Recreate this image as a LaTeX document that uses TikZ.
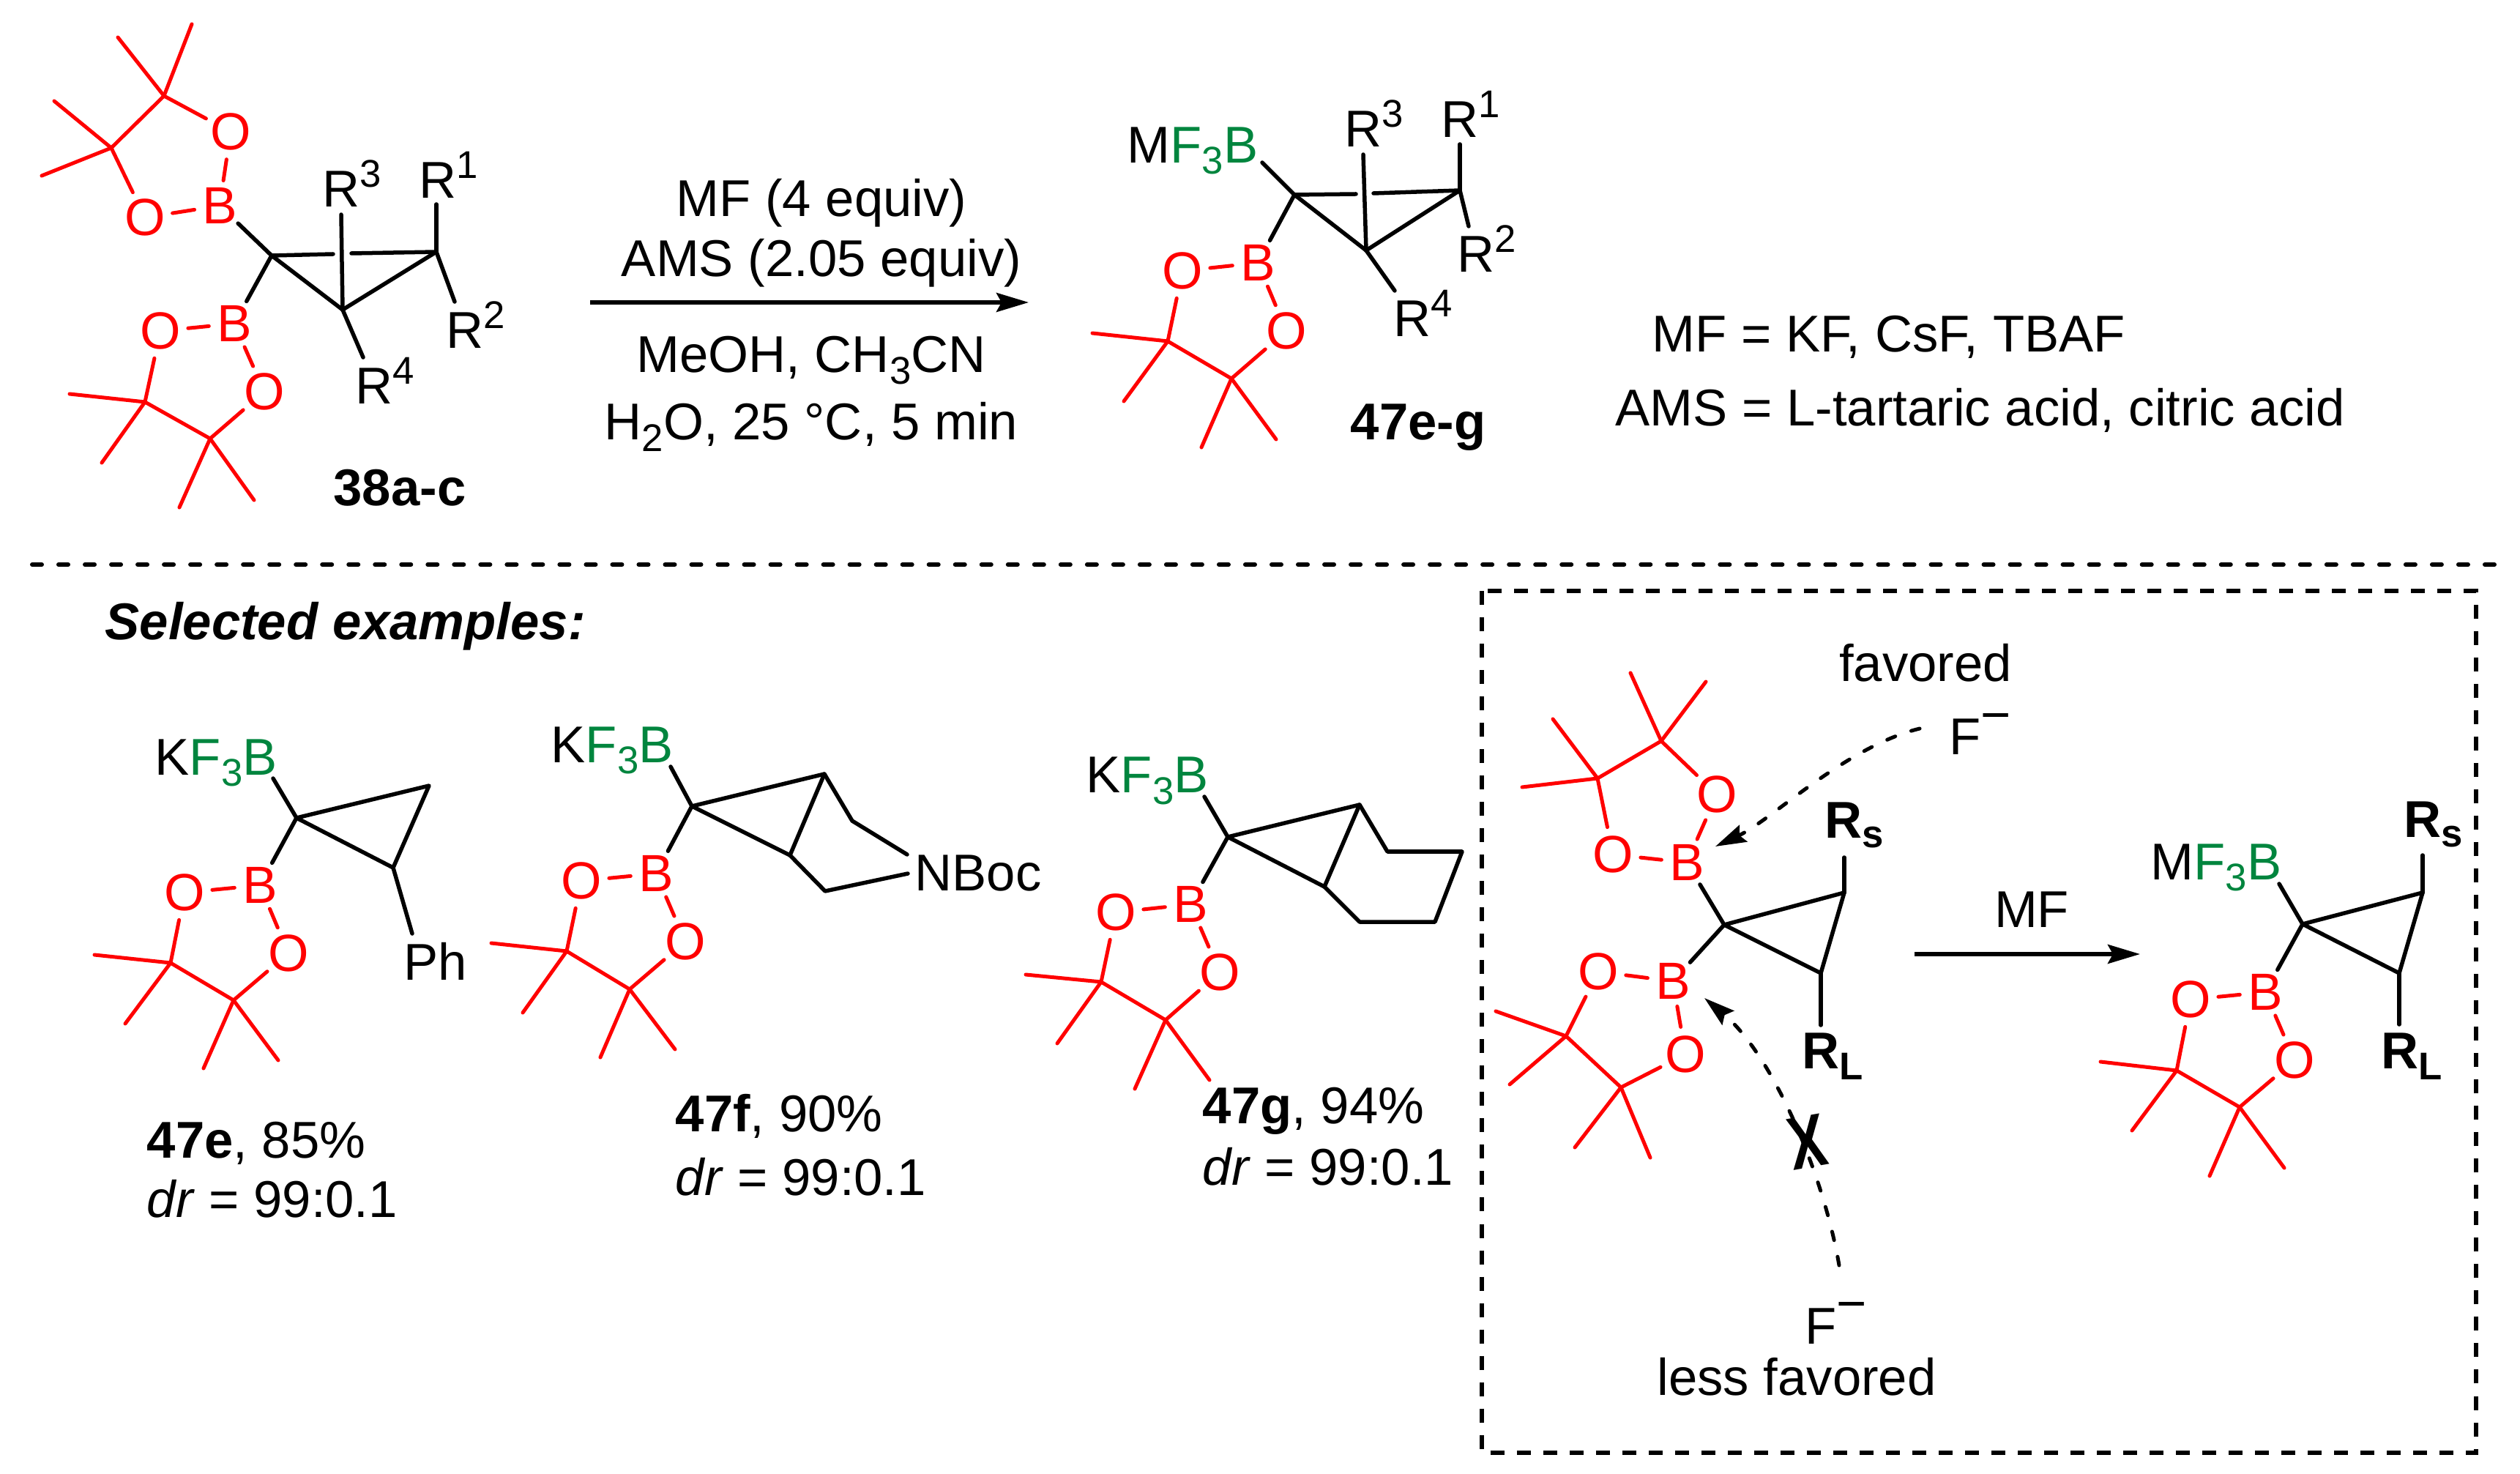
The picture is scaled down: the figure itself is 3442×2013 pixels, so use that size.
\documentclass[tikz,border=0pt]{standalone}
\usepackage{fontspec}
\setmainfont{Liberation Sans}
\usetikzlibrary{arrows.meta}
\definecolor{bred}{RGB}{255,0,0}
\definecolor{bgreen}{RGB}{0,133,62}
\newcommand\supn[1]{\raisebox{0.27cm}{\fontsize{15}{18}\selectfont #1}}
\newcommand\subn[1]{\raisebox{-0.15cm}{\fontsize{15}{18}\selectfont #1}}
\newcommand\RR[1]{R\supn{#1}}
\newcommand\FB[1]{#1\textcolor{bgreen}{F\subn{3}B}}
\newcommand\Bring[6]{%
  \node[ratom] (#1B) at (#2) {B};
  \node[ratom] (#1Oa) at (#3) {O};
  \node[ratom] (#1Ob) at (#4) {O};
  \coordinate (#1Ca) at (#5);
  \coordinate (#1Cb) at (#6);
  \draw[rbond] (#1B) -- (#1Oa);
  \draw[rbond] (#1B) -- (#1Ob);
  \draw[rbond] (#1Oa) -- (#1Ca);
  \draw[rbond] (#1Ob) -- (#1Cb);
  \draw[rbond] (#1Ca) -- (#1Cb);
}
\newcommand\Memes[5]{%
  \coordinate (#1Ma) at (#2);
  \coordinate (#1Mb) at (#3);
  \coordinate (#1Mc) at (#4);
  \coordinate (#1Md) at (#5);
  \draw[rbond] (#1Ca) -- (#1Ma);
  \draw[rbond] (#1Ca) -- (#1Mb);
  \draw[rbond] (#1Cb) -- (#1Mc);
  \draw[rbond] (#1Cb) -- (#1Md);
}
\tikzset{
  bond/.style={line width=0.055cm,line cap=round,line join=round,black},
  rbond/.style={line width=0.05cm,line cap=round,line join=round,bred},
  ratom/.style={circle,inner sep=0pt,minimum size=0.68cm,text=bred,font=\fontsize{20.3}{25}\selectfont},
  lab/.style={inner sep=0pt,anchor=base west,font=\fontsize{20.1}{25}\selectfont},
  cen/.style={inner sep=0pt,anchor=base,align=center,font=\fontsize{20.1}{25}\selectfont},
  arr/.style={line width=0.055cm,-{Stealth[length=0.44cm,width=0.26cm,inset=0.07cm]}},
  darr/.style={line width=0.05cm,line cap=round,dash pattern=on 0.12cm off 0.23cm,-{Stealth[length=0.42cm,width=0.25cm,inset=0.06cm]}},
  frame/.style={line width=0.06cm,dash pattern=on 0.19cm off 0.17cm},
  sepline/.style={line width=0.06cm,line cap=round,dash pattern=on 0.13cm off 0.23cm},
}
\begin{document}
\begin{tikzpicture}[x=0.01cm,y=-0.01cm]
\useasboundingbox (0,0) rectangle (3442,2013);
% ---- 38a-c
\Bring{a}{300,281}{315,180}{198,297}{224,131}{152,202}
\Memes{a}{262,33}{161,51}{74,138}{57,240}
\Bring{b}{320,442}{361,535}{219,452}{287,599}{198,549}
\Memes{b}{245,693}{347,683}{95,538}{139,632}
\coordinate (c0) at (371,349); \coordinate (c1) at (596,344); \coordinate (c2) at (468,423);
\coordinate (g1) at (455,347); \coordinate (g2) at (480,346);
\coordinate (t3) at (466,293); \coordinate (t1) at (596,279); \coordinate (t2) at (621,412); \coordinate (t4) at (496,488);
\draw[bond] (c0) -- (aB); \draw[bond] (c0) -- (bB);
\draw[bond] (c0) -- (g1); \draw[bond] (g2) -- (c1); \draw[bond] (c1) -- (c2); \draw[bond] (c2) -- (c0);
\draw[bond] (t3) -- (c2); \draw[bond] (t1) -- (c1); \draw[bond] (c1) -- (t2); \draw[bond] (c2) -- (t4);
\node[lab] (r3a) at (440,283) {\RR{3}};
\node[lab] (r1a) at (572,271) {\RR{1}};
\node[lab] (r2a) at (609,476) {\RR{2}};
\node[lab] (r4a) at (485,552) {\RR{4}};
\node[cen] (n38) at (546,691) {\textbf{38a-c}};
% ---- conditions
\coordinate (ra) at (806,413); \coordinate (rb) at (1405,413);
\draw[arr] (ra) -- (rb);
\node[cen] (t1a) at (1122,296) {MF (4 equiv)};
\node[cen] (t1b) at (1122,378) {AMS (2.05 equiv)};
\node[cen] (t1c) at (1108,509) {MeOH, CH\subn{3}CN};
\node[cen] (t1d) at (1108,601) {H\subn{2}O, 25 °C, 5 min};
% ---- 47e-g
\Bring{p}{1718,359}{1757,452}{1615,370}{1682,517}{1595,466}
\Memes{p}{1641,611}{1743,600}{1492,455}{1535,548}
\coordinate (d0) at (1768,266); \coordinate (d1) at (1994,260); \coordinate (d2) at (1866,342);
\coordinate (h1) at (1852,265); \coordinate (h2) at (1876,264); \coordinate (dB) at (1724,222);
\coordinate (s3) at (1862,211); \coordinate (s1) at (1994,197); \coordinate (s2) at (2006,309); \coordinate (s4) at (1905,397);
\draw[bond] (d0) -- (dB); \draw[bond] (d0) -- (pB);
\draw[bond] (d0) -- (h1); \draw[bond] (h2) -- (d1); \draw[bond] (d1) -- (d2); \draw[bond] (d2) -- (d0);
\draw[bond] (s3) -- (d2); \draw[bond] (s1) -- (d1); \draw[bond] (d1) -- (s2); \draw[bond] (d2) -- (s4);
\node[lab] (mf1) at (1539,223) {\FB{M}};
\node[lab] (r3p) at (1836,201) {\RR{3}};
\node[lab] (r1p) at (1968,188) {\RR{1}};
\node[lab] (r2p) at (1990,372) {\RR{2}};
\node[lab] (r4p) at (1903,460) {\RR{4}};
\node[lab] (n47) at (1844,601) {\textbf{47e-g}};
\node[lab] (def1) at (2256,481) {MF = KF, CsF, TBAF};
\node[lab] (def2) at (2206,582) {AMS = L-tartaric acid, citric acid};
% ---- separators
\coordinate (la) at (44,771); \coordinate (lb) at (3407,771);
\draw[sepline] (la) -- (lb);
\node[lab] (sel) at (143,874) {\textbf{\textit{Selected examples:}}};
\coordinate (fa) at (2024,807); \coordinate (fb) at (3382,1984);
\draw[frame] (fa) rectangle (fb);
% ---- 47e
\Bring{e}{355,1209}{394,1302}{252,1219}{319,1366}{233,1315}
\Memes{e}{278,1459}{380,1448}{129,1304}{171,1398}
\coordinate (e0) at (405,1117); \coordinate (e1) at (586,1073); \coordinate (e2) at (537,1185);
\coordinate (eT) at (373,1063); \coordinate (eP) at (563,1275);
\draw[bond] (e0) -- (eT); \draw[bond] (e0) -- (eB);
\draw[bond] (e0) -- (e1) -- (e2) -- cycle; \draw[bond] (e2) -- (eP);
\node[lab] (ke) at (211,1058) {\FB{K}};
\node[lab] (ph) at (551,1338) {Ph};
\node[lab] (le1) at (200,1581) {\textbf{47e}, 85\%};
\node[lab] (le2) at (200,1662) {\textit{dr} = 99:0.1};
% ---- 47f
\Bring{f}{896,1193}{936,1286}{794,1203}{860,1351}{774,1299}
\Memes{f}{820,1444}{922,1433}{671,1288}{714,1383}
\coordinate (f0) at (945,1101); \coordinate (f1) at (1126,1057); \coordinate (f2) at (1079,1168);
\coordinate (f3) at (1164,1121); \coordinate (f4) at (1239,1167); \coordinate (f5) at (1240,1193); \coordinate (f6) at (1127,1217);
\coordinate (fT) at (916,1047);
\draw[bond] (f0) -- (fT); \draw[bond] (f0) -- (fB);
\draw[bond] (f0) -- (f1) -- (f2) -- cycle;
\draw[bond] (f1) -- (f3) -- (f4); \draw[bond] (f2) -- (f6) -- (f5);
\node[lab] (kf) at (752,1041) {\FB{K}};
\node[lab] (nb) at (1249,1216) {NBoc};
\node[lab] (lf1) at (922,1545) {\textbf{47f}, 90\%};
\node[lab] (lf2) at (922,1632) {\textit{dr} = 99:0.1};
% ---- 47g
\Bring{g}{1626,1235}{1666,1328}{1524,1246}{1592,1393}{1504,1341}
\Memes{g}{1550,1487}{1652,1475}{1401,1331}{1444,1425}
\coordinate (g0) at (1677,1143); \coordinate (gg1) at (1857,1099); \coordinate (gg2) at (1809,1211);
\coordinate (g3) at (1895,1163); \coordinate (g4) at (1997,1163); \coordinate (g5) at (1960,1259); \coordinate (g6) at (1857,1259);
\coordinate (gT) at (1645,1088);
\draw[bond] (g0) -- (gT); \draw[bond] (g0) -- (gB);
\draw[bond] (g0) -- (gg1) -- (gg2) -- cycle;
\draw[bond] (gg1) -- (g3) -- (g4) -- (g5) -- (g6) -- (gg2);
\node[lab] (kg) at (1483,1083) {\FB{K}};
\node[lab] (lg1) at (1642,1534) {\textbf{47g}, 94\%};
\node[lab] (lg2) at (1642,1618) {\textit{dr} = 99:0.1};
% ---- box left structure
\Bring{u}{2304,1178}{2345,1085}{2203,1167}{2269,1012}{2182,1063}
\Memes{u}{2227,919}{2330,931}{2121,982}{2079,1075}
\Bring{v}{2285,1340}{2302,1440}{2183,1327}{2214,1485}{2139,1415}
\Memes{v}{2151,1567}{2254,1581}{2043,1381}{2062,1481}
\coordinate (u0) at (2355,1263); \coordinate (u1) at (2519,1219); \coordinate (u2) at (2487,1329);
\coordinate (uS) at (2519,1171); \coordinate (uL) at (2487,1400);
\draw[bond] (u0) -- (uB); \draw[bond] (u0) -- (vB);
\draw[bond] (u0) -- (u1) -- (u2) -- cycle;
\draw[bond] (u1) -- (uS); \draw[bond] (u2) -- (uL);
\node[lab] (rs1) at (2492,1144) {\textbf{R\raisebox{-0.13cm}{\fontsize{15}{18}\selectfont s}}};
\node[lab] (rl1) at (2461,1459) {\textbf{R\raisebox{-0.15cm}{\fontsize{15}{18}\selectfont L}}};
\node[cen] (fav) at (2630,931) {favored};
\node[lab] (f1n) at (2662,1031) {F\raisebox{0.3cm}{−}};
\node[lab] (f2n) at (2465,1835) {F\raisebox{0.3cm}{−}};
\node[cen] (lfav) at (2454,1905) {less favored};
\coordinate (da) at (2622,995); \coordinate (db) at (2343,1156);
\draw[darr] (da) .. controls (2520,1020) and (2420,1120) .. (db);
\coordinate (ea) at (2512,1728); \coordinate (eb) at (2328,1363);
\draw[darr] (ea) .. controls (2490,1600) and (2420,1440) .. (eb);
\begin{scope}[shift={(2468,1560)},rotate=10,xscale=0.75,transform shape]
\node[inner sep=0pt,font=\fontsize{29}{33}\selectfont\bfseries] (xx) at (0,0) {X};
\end{scope}
% ---- box arrow
\coordinate (ma) at (2615,1303); \coordinate (mb) at (2923,1303);
\draw[arr] (ma) -- (mb);
\node[cen] (mf) at (2775,1266) {MF};
% ---- box product
\Bring{w}{3094,1355}{3134,1448}{2992,1365}{3059,1512}{2973,1462}
\Memes{w}{3018,1606}{3120,1595}{2869,1450}{2912,1544}
\coordinate (w0) at (3145,1262); \coordinate (w1) at (3309,1219); \coordinate (w2) at (3277,1329);
\coordinate (wS) at (3309,1168); \coordinate (wL) at (3277,1399); \coordinate (wT) at (3113,1207);
\draw[bond] (w0) -- (wT); \draw[bond] (w0) -- (wB);
\draw[bond] (w0) -- (w1) -- (w2) -- cycle;
\draw[bond] (w1) -- (wS); \draw[bond] (w2) -- (wL);
\node[lab] (mf3) at (2937,1201) {\FB{M}};
\node[lab] (rs2) at (3283,1143) {\textbf{R\raisebox{-0.13cm}{\fontsize{15}{18}\selectfont s}}};
\node[lab] (rl2) at (3252,1459) {\textbf{R\raisebox{-0.15cm}{\fontsize{15}{18}\selectfont L}}};
\end{tikzpicture}
\end{document}
